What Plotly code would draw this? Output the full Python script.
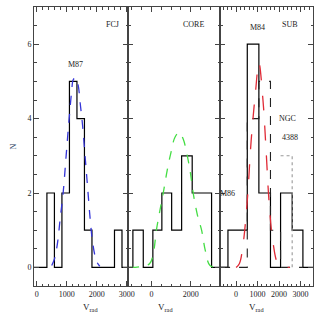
"""
Distribución de velocidades radiales (FCJ / CORE / SUB)
"""

import plotly.graph_objects as go
from plotly.subplots import make_subplots

# ============================================================================
# DATOS
# ============================================================================

# Panel FCJ
fcj_edges = [340, 590, 840, 1090, 1340, 1590, 1840, 2590, 2840]
fcj_counts = [2, 0, 2, 5, 4, 1, 0, 1]
fcj_fit_v = [500, 600, 700, 780, 880, 980, 1080, 1160, 1220, 1300, 1380, 1450,
             1530, 1620, 1700, 1780, 1850, 1930, 2000, 2100]
fcj_fit_n = [0.05, 0.25, 0.7, 1.3, 2.0, 3.0, 4.0, 4.7, 5.05, 5.1, 4.9, 4.4,
             3.8, 2.9, 2.1, 1.3, 0.75, 0.35, 0.15, 0.03]

# Panel CORE
core_edges = [-950, -420, 70, 530, 1030, 1540, 2080, 2580, 3070]
core_counts = [1, 0, 1, 2, 1, 3, 2, 2]
core_fit_v = [-1100, -600, -100, 100, 250, 420, 600, 800, 1000, 1200, 1420,
              1620, 1830, 2000, 2130, 2350, 2560, 2750, 2990, 3400]
core_fit_n = [0.0, 0.02, 0.1, 0.4, 1.0, 1.5, 2.0, 2.6, 3.1, 3.5, 3.63,
              3.45, 3.0, 2.5, 2.0, 1.4, 1.0, 0.45, 0.05, 0.0]

# Panel SUB
sub_edges = [-380, 70, 520, 1060, 1600, 2070, 2610, 3110]
sub_counts = [1, 1, 6, 2, 0, 2, 1]
m84_edges = [520, 1060, 1600, 2070]
m84_counts = [4, 5, 1]
ngc_edges = [2070, 2610]
ngc_counts = [3]
sub_fit_v = [0, 150, 320, 520, 700, 900, 1060, 1250, 1400, 1530, 1710, 1950,
             2200, 2500]
sub_fit_n = [0.0, 0.1, 0.6, 1.8, 3.4, 4.7, 5.5, 4.5, 3.1, 1.8, 0.7, 0.1,
             0.02, 0.0]

x_ranges = [[-90, 3040], [-1200, 3500], [-750, 3580]]
x_dticks = [1000, 2000, 1000]
x_minor = [200, 500, 200]
y_range = [-0.5, 7]

FONT = "Liberation Serif"
AXIS_COLOR = "#444444"


def step_xy(edges, counts, x0=None, x1=None):
    """Coordenadas de un histograma en escalón (line_shape='hv')"""
    xs, ys = [], []
    if x0 is not None:
        xs.append(x0)
        ys.append(0)
    for e, c in zip(edges[:-1], counts):
        xs.append(e)
        ys.append(c)
    xs.append(edges[-1])
    ys.append(0)
    if x1 is not None:
        xs.append(x1)
        ys.append(0)
    return xs, ys


def add_step(fig, col, edges, counts, x0=None, x1=None, color="black", dash="solid", width=1.2):
    xs, ys = step_xy(edges, counts, x0, x1)
    fig.add_trace(
        go.Scatter(x=xs, y=ys, mode="lines", line=dict(shape="hv", color=color, dash=dash, width=width),
                   showlegend=False, hoverinfo="skip"),
        row=1, col=col,
    )


def add_curve(fig, col, xs, ys, color, dash):
    fig.add_trace(
        go.Scatter(x=xs, y=ys, mode="lines", line=dict(shape="spline", color=color, dash=dash, width=1.3),
                   showlegend=False, hoverinfo="skip"),
        row=1, col=col,
    )


fig = make_subplots(rows=1, cols=3, horizontal_spacing=0, column_widths=[94, 92, 93])

# Panel 1
add_step(fig, 1, fcj_edges, fcj_counts, x0=x_ranges[0][0], x1=x_ranges[0][1])
add_curve(fig, 1, fcj_fit_v, fcj_fit_n, "#3535d8", "dash")

# Panel 2
add_step(fig, 2, core_edges, core_counts, x0=x_ranges[1][0], x1=x_ranges[1][1])
add_curve(fig, 2, core_fit_v, core_fit_n, "#44dd44", "dash")

# Panel 3
add_step(fig, 3, sub_edges, sub_counts, x0=x_ranges[2][0], x1=x_ranges[2][1])
add_step(fig, 3, m84_edges, m84_counts, x0=-700, x1=3110, color="#222222", dash="dash", width=1.1)
add_step(fig, 3, ngc_edges, ngc_counts, color="#999999", dash="dot", width=1.1)
add_curve(fig, 3, sub_fit_v, sub_fit_n, "#e02a36", "longdash")

for i in range(3):
    fig.update_xaxes(
        range=x_ranges[i], dtick=x_dticks[i], tick0=0,
        ticks="inside", ticklen=5, tickcolor=AXIS_COLOR,
        minor=dict(dtick=x_minor[i], ticks="inside", ticklen=2.5, tickcolor=AXIS_COLOR),
        showline=True, linecolor=AXIS_COLOR, linewidth=1, mirror="allticks",
        showgrid=False, zeroline=False,
        tickfont=dict(family=FONT, size=8, color="#222222"),
        row=1, col=i + 1,
    )
    fig.update_yaxes(
        range=y_range, tickvals=[0, 2, 4, 6], showticklabels=(i == 0),
        ticks="inside", ticklen=5, tickcolor=AXIS_COLOR,
        minor=dict(dtick=0.5, tick0=0, ticks="inside", ticklen=2.5, tickcolor=AXIS_COLOR),
        showline=True, linecolor=AXIS_COLOR, linewidth=1, mirror="allticks",
        showgrid=False, zeroline=False,
        tickfont=dict(family=FONT, size=8, color="#222222"),
        row=1, col=i + 1,
    )

fig.update_yaxes(title=dict(text="N", font=dict(family=FONT, size=8), standoff=9), row=1, col=1)

# Etiquetas dentro de los paneles
labels = [
    ("x", "y", 2510, 6.54, "FCJ"),
    ("x", "y", 1277, 5.46, "M87"),
    ("x2", "y2", 2170, 6.54, "CORE"),
    ("x3", "y3", 1000, 6.46, "M84"),
    ("x3", "y3", 2490, 6.54, "SUB"),
    ("x3", "y3", 2395, 4.0, "NGC"),
    ("x3", "y3", 2490, 3.49, "4388"),
    ("x3", "y3", -400, 2.0, "M86"),
]
for xr, yr, xv, yv, txt in labels:
    fig.add_annotation(x=xv, y=yv, xref=xr, yref=yr, text=txt, showarrow=False,
                       font=dict(family=FONT, size=8, color="#222222"))

# Títulos del eje x
for xc in [0.168, 0.47, 0.83]:
    fig.add_annotation(x=xc, y=-0.05, xref="paper", yref="paper", yanchor="top",
                       text="V<sub>rad</sub>", showarrow=False,
                       font=dict(family=FONT, size=9, color="#222222"))

fig.update_layout(
    width=327, height=320,
    margin=dict(l=34, r=14, t=7, b=34),
    paper_bgcolor="white", plot_bgcolor="white",
)

fig.write_html("out.html", config={"displayModeBar": False},
               post_script="document.body.style.margin='0';")
